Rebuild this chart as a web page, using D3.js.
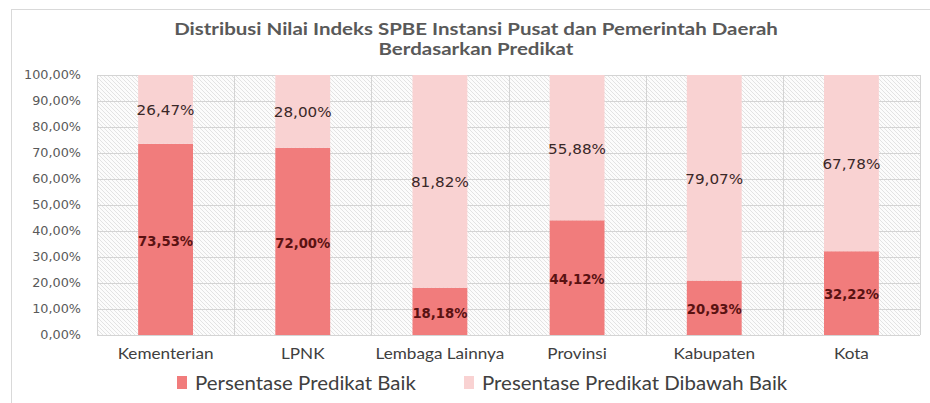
<!DOCTYPE html>
<html><head><meta charset="utf-8">
<script src="https://cdn.jsdelivr.net/npm/d3@7"></script>
<style>body{margin:0;background:#fff;}svg{display:block;}</style>
</head><body>
<svg id="c" width="930" height="403"></svg>
<script>
const categories = ["Kementerian","LPNK","Lembaga Lainnya","Provinsi","Kabupaten","Kota"];
const baik = [73.53, 72.00, 18.18, 44.12, 20.93, 32.22];
const dibawahBaik = [26.47, 28.00, 81.82, 55.88, 79.07, 67.78];
const yTicks = [0,10,20,30,40,50,60,70,80,90,100];
const seriesNames = ["Persentase Predikat Baik","Presentase Predikat Dibawah Baik"];
const titleLines = ["Distribusi Nilai Indeks SPBE Instansi Pusat dan Pemerintah Daerah","Berdasarkan Predikat"];

const colBaik = "#F17C7C", colBawah = "#F9D2D2";
const svg = d3.select("#c");
const fmt = v => v.toFixed(2).replace(".", ",") + "%";

// outer frame
svg.append("rect").attr("x",11.5).attr("y",9.5).attr("width",940).attr("height",420)
  .attr("fill","#fff").attr("stroke","#d9d9d9");

const defs = svg.append("defs");
const pat = defs.append("pattern").attr("id","hatch").attr("patternUnits","userSpaceOnUse")
  .attr("width",4).attr("height",4);
pat.append("rect").attr("width",4).attr("height",4).attr("fill","#fcfcfc");
pat.append("path").attr("d","M-1,-1 L5,5 M-1,3 L1,5 M3,-1 L5,1").attr("stroke","#d9d9d9").attr("stroke-width",0.7);

const L=97, R=920, T=75, B=335;
const x = d3.scaleBand().domain(categories).range([L,R]).paddingInner(0.6).paddingOuter(0.3);
const y = d3.scaleLinear().domain([0,100]).range([B,T]);

svg.append("rect").attr("x",L).attr("y",T).attr("width",R-L).attr("height",B-T).attr("fill","url(#hatch)");

// gridlines
svg.append("g").selectAll("line").data(yTicks).join("line")
  .attr("x1",L).attr("x2",R).attr("y1",d=>Math.round(y(d))+0.5).attr("y2",d=>Math.round(y(d))+0.5)
  .attr("stroke","#d4d4d4");
const step = x.step();
const bounds = d3.range(categories.length+1).map(i => L + i*step);
svg.append("g").selectAll("line").data(bounds).join("line")
  .attr("x1",d=>Math.round(d)+0.5).attr("x2",d=>Math.round(d)+0.5).attr("y1",T).attr("y2",B)
  .attr("stroke","#d4d4d4");

function txt(g, px, py, s, o){
  const t = g.append("text").attr("text-anchor", o.anchor||"middle").attr("dominant-baseline","central")
    .style("font-family", o.family).style("font-size", o.size+"px").style("font-weight", o.weight||"normal")
    .attr("fill", o.fill).text(s);
  t.attr("transform", `translate(${px},${py}) scale(${o.sx||1},1)`);
  return t;
}
function fitScale(g, s, o, target){
  const t = g.append("text").style("font-family",o.family).style("font-size",o.size+"px").style("font-weight",o.weight||"normal").text(s);
  const w = t.node().getComputedTextLength(); t.remove(); return target / w;
}

// stacked bars
const stack = d3.stack().keys(["baik","bawah"])(categories.map((c,i)=>({cat:c, baik:baik[i], bawah:dibawahBaik[i]})));
const colors = [colBaik, colBawah];
stack.forEach((layer, li) => {
  svg.append("g").selectAll("rect").data(layer).join("rect")
    .attr("x", d=>x(d.data.cat)).attr("width", x.bandwidth())
    .attr("y", d=>y(d[1])).attr("height", d=>y(d[0])-y(d[1]))
    .attr("fill", colors[li]);
});

const gl = svg.append("g");
const boldO = {family:"DejaVu Sans", size:14, weight:"bold", fill:"#5a1212"};
boldO.sx = fitScale(gl, "73,53%", boldO, 55);
const normO = {family:"DejaVu Sans", size:14.5, fill:"#3a2828"};
normO.sx = fitScale(gl, "26,47%", normO, 58);
stack[0].forEach((d,i) => txt(gl, x(d.data.cat)+x.bandwidth()/2, (y(d[0])+y(d[1]))/2+1, fmt(baik[i]), boldO));
stack[1].forEach((d,i) => txt(gl, x(d.data.cat)+x.bandwidth()/2, (y(d[0])+y(d[1]))/2+1, fmt(dibawahBaik[i]), normO));

// y tick labels
const tickO = {family:"DejaVu Sans", size:12, fill:"#595959", anchor:"end"};
tickO.sx = fitScale(gl, "100,00%", tickO, 57);
yTicks.forEach(v => txt(gl, 81, y(v), fmt(v), tickO));

// x labels
const xO = {family:"Lato", size:15.5, fill:"#404040"};
xO.sx = fitScale(gl, "Kementerian", xO, 96);
categories.forEach(c => txt(gl, x(c)+x.bandwidth()/2, 353, c, xO));

// title
const tO = {family:"Lato", size:17, weight:"bold", fill:"#595959"};
tO.sx = fitScale(gl, titleLines[0], tO, 604);
txt(gl, 476, 28, titleLines[0], tO);
txt(gl, 476, 48, titleLines[1], tO);

// legend
const lgO = {family:"Lato", size:19, fill:"#404040", anchor:"start"};
lgO.sx = fitScale(gl, seriesNames[0], lgO, 221);
const legX = [177, 464];
seriesNames.forEach((n,i) => {
  gl.append("rect").attr("x",legX[i]).attr("y",376).attr("width",10).attr("height",13).attr("fill",colors[i]);
  txt(gl, legX[i]+18, 383, n, lgO);
});
</script>
</body></html>
